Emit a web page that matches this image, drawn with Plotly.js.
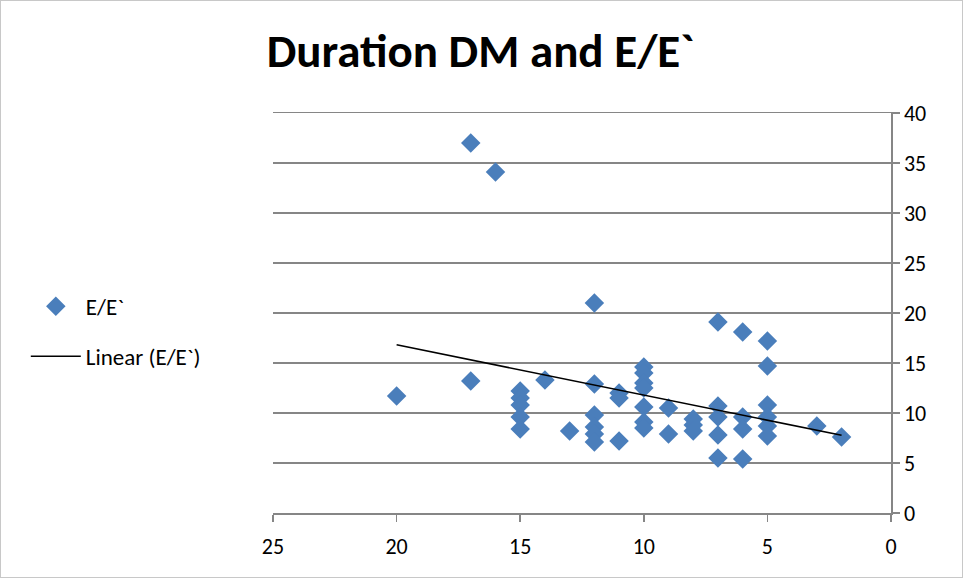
<!DOCTYPE html>
<html>
<head>
<meta charset="utf-8">
<script src="https://cdn.plot.ly/plotly-3.0.1.min.js"></script>
<style>
html,body{margin:0;padding:0;background:#fff;}
#wrap{position:relative;width:963px;height:578px;}
#chart{width:963px;height:578px;}
#frame{position:absolute;left:0;top:0;width:963px;height:578px;box-sizing:border-box;border:1px solid #c8c8c8;pointer-events:none;}
</style>
</head>
<body>
<div id="wrap"><div id="chart"></div><div id="frame"></div></div>
<script>
// Duration DM (x) and E/E` (y)
const durationDM = [20, 17, 17, 16, 15, 15, 15, 15, 15, 14, 13,
  12, 12, 12, 12, 12, 12, 11, 11, 11,
  10, 10, 10, 10, 10, 10, 10, 9, 9,
  8, 8, 8, 7, 7, 7, 7, 7,
  6, 6, 6, 6, 5, 5, 5, 5, 5, 5, 3, 2];
const eRatio = [11.7, 13.2, 37.0, 34.1, 12.2, 11.5, 10.8, 9.6, 8.4, 13.3, 8.2,
  21.0, 12.9, 9.8, 8.6, 7.9, 7.1, 12.0, 11.5, 7.2,
  14.6, 14.0, 13.0, 12.5, 10.6, 9.1, 8.5, 10.5, 7.9,
  9.4, 8.8, 8.2, 19.1, 10.7, 9.6, 7.8, 5.5,
  18.1, 9.6, 8.4, 5.4, 17.2, 14.7, 10.8, 9.6, 8.7, 7.7, 8.7, 7.6];
const xTicks = [25, 20, 15, 10, 5, 0];
const yTicks = [0, 5, 10, 15, 20, 25, 30, 35, 40];
const seriesName = 'E/E`';
const trendName = 'Linear (E/E`)';
const chartTitle = 'Duration DM and E/E`';

// least-squares linear trend over the data range
const n = durationDM.length;
const mx = durationDM.reduce((a, b) => a + b, 0) / n;
const my = eRatio.reduce((a, b) => a + b, 0) / n;
let sxy = 0, sxx = 0;
for (let i = 0; i < n; i++) { sxy += (durationDM[i] - mx) * (eRatio[i] - my); sxx += (durationDM[i] - mx) ** 2; }
const slope = sxy / sxx, icpt = my - slope * mx;
const xMin = Math.min(...durationDM), xMax = Math.max(...durationDM);
const trendX = [xMax, xMin];
const trendY = trendX.map(v => icpt + slope * v);

const font = 'Calibri, Carlito, "Liberation Sans", Arial, sans-serif';
const traces = [
  {x: durationDM, y: eRatio, mode: 'markers', type: 'scatter', name: seriesName,
   marker: {symbol: 'diamond', size: 15, color: '#4a7ebb', line: {width: 0}},
   legendgroup: 'a', cliponaxis: false},
  {x: trendX, y: trendY, mode: 'lines', type: 'scatter', name: trendName,
   line: {color: '#000000', width: 1.6}, legendgroup: 'b'}
];
const layout = {
  width: 963, height: 578,
  margin: {l: 273, r: 72, t: 113, b: 65},
  paper_bgcolor: '#ffffff', plot_bgcolor: '#ffffff',
  font: {family: font, size: 22, color: '#000'},
  title: {text: '<b>' + chartTitle + '</b>', font: {family: font, size: 47, color: '#000'},
          x: 0.499, xanchor: 'center', xref: 'container', y: 0.912, yanchor: 'middle'},
  showlegend: true,
  legend: {x: -0.40, xanchor: 'left', y: 0.454, yanchor: 'middle',
           font: {family: font, size: 23, color: '#000'}, traceorder: 'grouped',
           tracegroupgap: 17, bgcolor: 'rgba(0,0,0,0)', itemwidth: 50},
  xaxis: {range: [25, 0], tickvals: xTicks, ticktext: xTicks.map(String),
          showgrid: false, zeroline: false, showline: true, mirror: true,
          linecolor: '#868686', linewidth: 1.5,
          ticks: 'outside', ticklen: 7, tickcolor: '#868686', tickwidth: 1.5,
          ticklabelstandoff: 6,
          tickfont: {family: font, size: 22, color: '#000'}, fixedrange: true},
  yaxis: {range: [0, 40], side: 'right', tickvals: yTicks, ticktext: yTicks.map(String),
          showgrid: true, gridcolor: '#868686', gridwidth: 1.5, zeroline: false,
          showline: true, linecolor: '#868686', linewidth: 1.5,
          ticks: 'outside', ticklen: 7, tickcolor: '#868686', tickwidth: 1.5,
          tickfont: {family: font, size: 22, color: '#000'}, fixedrange: true}
};
Plotly.newPlot('chart', traces, layout, {displayModeBar: false, staticPlot: true});
</script>
</body>
</html>
